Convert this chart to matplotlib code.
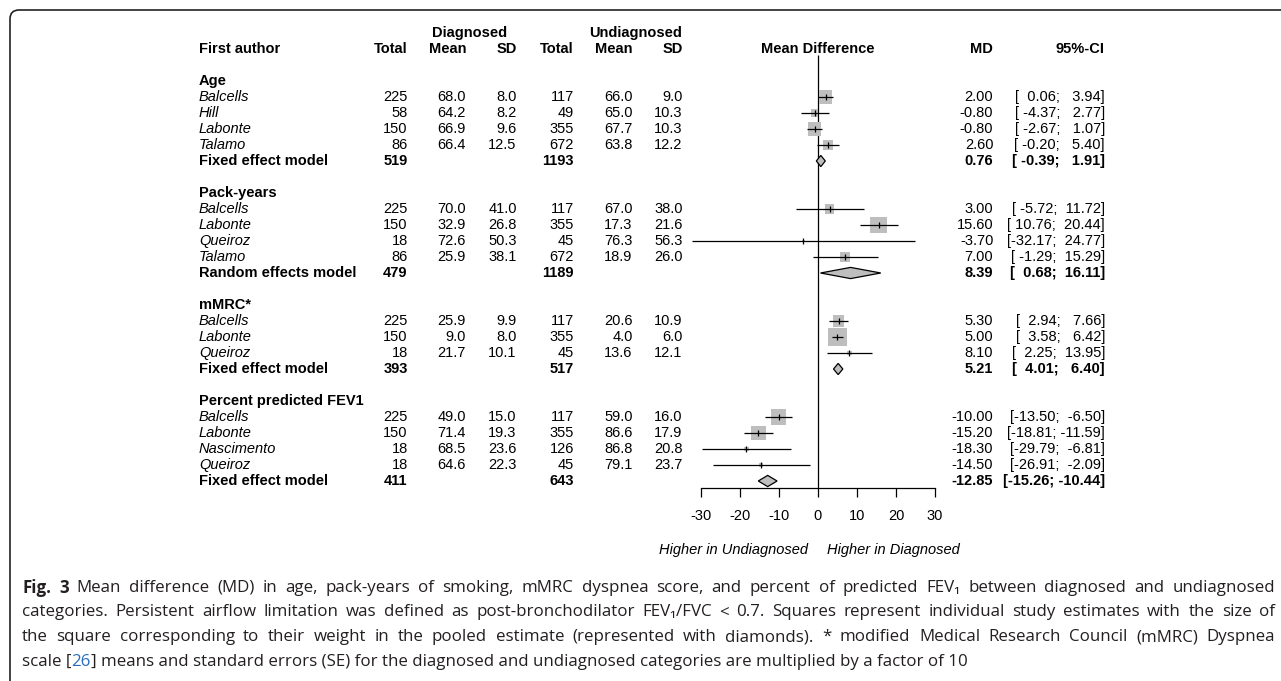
import numpy as np
import matplotlib
matplotlib.use("Agg")
import matplotlib.pyplot as plt
from matplotlib import transforms
from matplotlib.patches import FancyBboxPatch

# forest plot: mean difference diagnosed vs undiagnosed

W, H = 1281, 681

group_names = ["Age", "Pack-years", "mMRC*", "Percent predicted FEV1"]
model_names = ["Fixed effect model", "Random effects model", "Fixed effect model", "Fixed effect model"]

# Age
age_authors = ["Balcells", "Hill", "Labonte", "Talamo"]
age_n_d = [225, 58, 150, 86]
age_mean_d = [68.0, 64.2, 66.9, 66.4]
age_sd_d = [8.0, 8.2, 9.6, 12.5]
age_n_u = [117, 49, 355, 672]
age_mean_u = [66.0, 65.0, 67.7, 63.8]
age_sd_u = [9.0, 10.3, 10.3, 12.2]
age_md = [2.00, -0.80, -0.80, 2.60]
age_lo = [0.06, -4.37, -2.67, -0.20]
age_hi = [3.94, 2.77, 1.07, 5.40]
age_w = [35.0, 10.3, 37.8, 16.8]
age_pool = [0.76, -0.39, 1.91]
age_tot = [519, 1193]

# Pack-years
pack_authors = ["Balcells", "Labonte", "Queiroz", "Talamo"]
pack_n_d = [225, 150, 18, 86]
pack_mean_d = [70.0, 32.9, 72.6, 25.9]
pack_sd_d = [41.0, 26.8, 50.3, 38.1]
pack_n_u = [117, 355, 45, 672]
pack_mean_u = [67.0, 17.3, 76.3, 18.9]
pack_sd_u = [38.0, 21.6, 56.3, 26.0]
pack_md = [3.00, 15.60, -3.70, 7.00]
pack_lo = [-5.72, 10.76, -32.17, -1.29]
pack_hi = [11.72, 20.44, 24.77, 15.29]
pack_w = [18.4, 59.6, 1.7, 20.3]
pack_pool = [8.39, 0.68, 16.11]
pack_tot = [479, 1189]

# mMRC
mmrc_authors = ["Balcells", "Labonte", "Queiroz"]
mmrc_n_d = [225, 150, 18]
mmrc_mean_d = [25.9, 9.0, 21.7]
mmrc_sd_d = [9.9, 8.0, 10.1]
mmrc_n_u = [117, 355, 45]
mmrc_mean_u = [20.6, 4.0, 13.6]
mmrc_sd_u = [10.9, 6.0, 12.1]
mmrc_md = [5.30, 5.00, 8.10]
mmrc_lo = [2.94, 3.58, 2.25]
mmrc_hi = [7.66, 6.42, 13.95]
mmrc_w = [25.5, 70.4, 4.1]
mmrc_pool = [5.21, 4.01, 6.40]
mmrc_tot = [393, 517]

# Percent predicted FEV1
fev_authors = ["Balcells", "Labonte", "Nascimento", "Queiroz"]
fev_n_d = [225, 150, 18, 18]
fev_mean_d = [49.0, 71.4, 68.5, 64.6]
fev_sd_d = [15.0, 19.3, 23.6, 22.3]
fev_n_u = [117, 355, 126, 45]
fev_mean_u = [59.0, 86.6, 86.8, 79.1]
fev_sd_u = [16.0, 17.9, 20.8, 23.7]
fev_md = [-10.00, -15.20, -18.30, -14.50]
fev_lo = [-13.50, -18.81, -29.79, -26.91]
fev_hi = [-6.50, -11.59, -6.81, -2.09]
fev_w = [47.3, 44.5, 4.4, 3.8]
fev_pool = [-12.85, -15.26, -10.44]
fev_tot = [411, 643]

x_ticks = [-30, -20, -10, 0, 10, 20, 30]

caption_lines = [
    [("Fig. 3", "bold"), ("Mean difference (MD) in age, pack-years of smoking, mMRC dyspnea score, and percent of "
                          "predicted FEV\u2081 between diagnosed and undiagnosed", "normal")],
    [("categories. Persistent airflow limitation was defined as post-bronchodilator FEV\u2081/FVC < 0.7. Squares "
      "represent individual study estimates with the size of", "normal")],
    [("the square corresponding to their weight in the pooled estimate (represented with diamonds). * modified "
      "Medical Research Council (mMRC) Dyspnea", "normal")],
    [("scale [", "normal"), ("26", "link"), ("] means and standard errors (SE) for the diagnosed and undiagnosed "
                                             "categories are multiplied by a factor of 10", "normal")],
]

groups = [
    (age_authors, age_n_d, age_mean_d, age_sd_d, age_n_u, age_mean_u, age_sd_u, age_md, age_lo, age_hi, age_w, age_pool, age_tot),
    (pack_authors, pack_n_d, pack_mean_d, pack_sd_d, pack_n_u, pack_mean_u, pack_sd_u, pack_md, pack_lo, pack_hi, pack_w, pack_pool, pack_tot),
    (mmrc_authors, mmrc_n_d, mmrc_mean_d, mmrc_sd_d, mmrc_n_u, mmrc_mean_u, mmrc_sd_u, mmrc_md, mmrc_lo, mmrc_hi, mmrc_w, mmrc_pool, mmrc_tot),
    (fev_authors, fev_n_d, fev_mean_d, fev_sd_d, fev_n_u, fev_mean_u, fev_sd_u, fev_md, fev_lo, fev_hi, fev_w, fev_pool, fev_tot),
]

plt.rcParams['font.family'] = ['Liberation Sans', 'DejaVu Sans']
FS = 10.5
GRAY = '#BEBEBE'

fig = plt.figure(figsize=(W / 100, H / 100), dpi=100)
renderer = fig.canvas.get_renderer()

# forest axes: x from -30 to 30 spans pixels 700.7..935, one row = 16 px, row 0 at y=81 px
row_top, row_bot = -3.5, 30.0
ax = fig.add_axes([700.7 / W, (H - (81 + 16 * row_bot)) / H, 234.3 / W, 16 * (row_bot - row_top) / H])
ax.set_xlim(-30, 30)
ax.set_ylim(row_bot, row_top)
ax.patch.set_visible(False)
for s in ['top', 'right', 'left']:
    ax.spines[s].set_visible(False)
axis_row = 25.44
ax.spines['bottom'].set_position(('data', axis_row))
ax.spines['bottom'].set_bounds(-30, 30)
ax.spines['bottom'].set_linewidth(0.9)
ax.set_xticks(x_ticks)
ax.set_xticklabels([str(t) for t in x_ticks])
ax.tick_params(axis='x', direction='out', length=6.5, width=0.9, pad=8.5, labelsize=FS)
ax.set_yticks([])

trans = transforms.blended_transform_factory(fig.transFigure, ax.transData)


def put(xpx, row, s, ha='right', **kw):
    fig.text(xpx / W, row, s, transform=trans, ha=ha, va='center', fontsize=FS, **kw)


# column positions (right edges, in pixels)
x_author = 199
col_x = [407.7, 466, 516.7, 574, 632.7, 682.7]
x_md = 993.3
x_ci = 1105

# headers
put(470, -3, "Diagnosed", ha='center', fontweight='bold')
put(636, -3, "Undiagnosed", ha='center', fontweight='bold')
put(x_author, -2, "First author", ha='left', fontweight='bold')
for cx, lab in zip(col_x, ["Total", "Mean", "SD", "Total", "Mean", "SD"]):
    put(cx, -2, lab, fontweight='bold')
put(817.7, -2, "Mean Difference", ha='center', fontweight='bold')
put(x_md, -2, "MD", fontweight='bold')
put(x_ci, -2, "95%-CI", fontweight='bold')

row = 0
for gname, mname, g in zip(group_names, model_names, groups):
    authors, nd, md_, sdd, nu, mu, sdu, md, lo, hi, w, pool, tot = g
    put(x_author, row, gname, ha='left', fontweight='bold')
    rows = []
    for i in range(len(authors)):
        row += 1
        rows.append(row)
        put(x_author, row, authors[i], ha='left', style='italic')
        vals = [f"{nd[i]}", f"{md_[i]:.1f}", f"{sdd[i]:.1f}", f"{nu[i]}", f"{mu[i]:.1f}", f"{sdu[i]:.1f}"]
        for cx, v in zip(col_x, vals):
            put(cx, row, v)
        put(x_md, row, f"{md[i]:.2f}")
        put(x_ci, row, f"[{lo[i]:6.2f}; {hi[i]:6.2f}]")
    rows = np.array(rows)
    # weight squares (area ~ weight), CI lines, estimate ticks
    side_px = 2.2 * np.sqrt(np.array(w))
    ax.scatter(md, rows, s=(side_px * 0.72) ** 2, marker='s', color=GRAY, edgecolors='none', zorder=2)
    ax.hlines(rows, lo, hi, color='black', lw=0.9, zorder=3, clip_on=False)
    ax.scatter(md, rows, s=16, marker='|', color='black', linewidths=0.9, zorder=4, clip_on=False)
    # pooled estimate
    row += 1
    put(x_author, row, mname, ha='left', fontweight='bold')
    put(col_x[0], row, f"{tot[0]}", fontweight='bold')
    put(col_x[3], row, f"{tot[1]}", fontweight='bold')
    put(x_md, row, f"{pool[0]:.2f}", fontweight='bold')
    put(x_ci, row, f"[{pool[1]:6.2f}; {pool[2]:6.2f}]", fontweight='bold')
    hh = 0.35
    ax.fill([pool[1], pool[0], pool[2], pool[0]], [row, row - hh, row, row + hh],
            facecolor=GRAY, edgecolor='black', lw=0.9, zorder=3)
    row += 2

# null line
ax.vlines(0, -1.62, axis_row, color='black', lw=0.9, zorder=1)

put(808, 29.3, "Higher in Undiagnosed", ha='right', style='italic')
put(827, 29.3, "Higher in Diagnosed", ha='left', style='italic')

# panel border (only the left and top edges fall inside the picture)
ident = transforms.IdentityTransform()
fig.patches.append(FancyBboxPatch((10, -60), 1400, H - 10 + 60, boxstyle="round,pad=0,rounding_size=9",
                                  transform=ident, fill=False, edgecolor='#222222', lw=1.2))

# caption: lines 1-3 justified between the margins, last line ragged
cap_family = ['Open Sans', 'DejaVu Sans']
cap_color = '#231F20'
link_color = '#2A6EBB'
cap_fs = 12.2
cap_left, cap_right = 22, 1275
cap_y = [588, 612.5, 637, 661.5]


def word_text(x, y, s, kind):
    kw = dict(fontsize=cap_fs, family=cap_family, va='center', ha='left',
              color=link_color if kind == 'link' else cap_color,
              fontweight='bold' if kind == 'bold' else 'normal')
    return fig.text(x / W, 1 - y / H, s, **kw)


for li, (segs, y) in enumerate(zip(caption_lines, cap_y)):
    if li < 3:
        words = []
        for s, kind in segs:
            words += [(wd, kind) for wd in s.split(" ")]
        arts = [word_text(0, y, wd, kind) for wd, kind in words]
        widths = [a.get_window_extent(renderer).width for a in arts]
        gap = (cap_right - cap_left - sum(widths)) / (len(arts) - 1)
        x = cap_left
        for a, wd in zip(arts, widths):
            a.set_x(x / W)
            x += wd + gap
    else:
        x = cap_left
        for s, kind in segs:
            a = word_text(x, y, s, kind)
            x += a.get_window_extent(renderer).width

fig.savefig("out.png", dpi=100)
